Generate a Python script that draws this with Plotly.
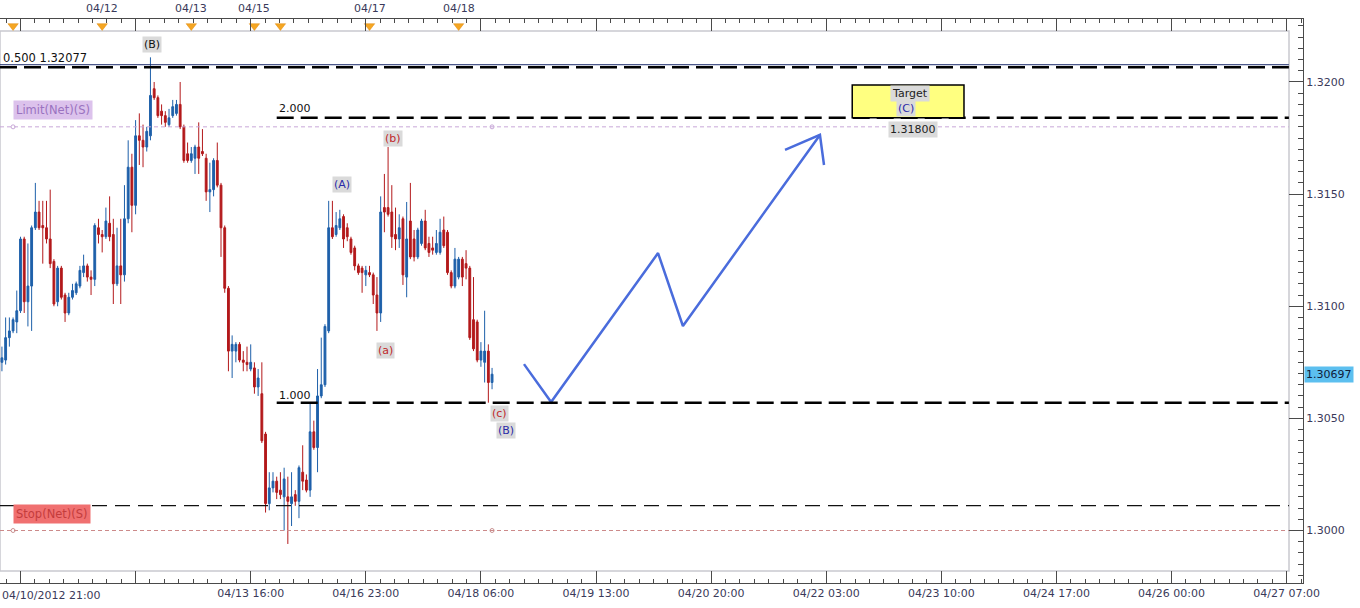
import plotly.graph_objects as go

# ---------------- data ----------------
bars = list(range(-5, 128))  # hourly bar index (weekend gaps removed)

opens = [1.3075,1.3076,1.3086,1.3089,1.3093,1.3098,1.3130,1.3102,1.3109,1.3135,
         1.3142,1.3136,1.3135,1.3130,1.3120,1.3102,1.3117,1.3105,1.3097,1.3104,
         1.3106,1.3109,1.3115,1.3118,1.3113,1.3112,1.3135,1.3132,1.3131,1.3137,
         1.3132,1.3110,1.3118,1.3114,1.3139,1.3162,1.3145,1.3176,1.3174,1.3171,
         1.3176,1.3197,1.3193,1.3187,1.3185,1.3181,1.3185,1.3186,1.3190,1.3180,
         1.3168,1.3165,1.3166,1.3171,1.3169,1.3166,1.3151,1.3152,1.3165,1.3154,
         1.3135,1.3108,1.3080,1.3080,1.3083,1.3076,1.3075,1.3072,1.30725,1.3064,
         1.3061,1.3043,1.3012,1.3019,1.3022,1.3018,1.3015,1.3015,1.3012,1.3016,
         1.3013,1.3026,1.30225,1.3018,1.3044,1.3037,1.3060,1.3065,1.3089,1.3135,
         1.3132,1.3135,1.3140,1.3135,1.3130,1.3126,1.3118,1.3117,1.3114,1.3115,
         1.3114,1.3105,1.3097,1.3144,1.3144,1.3142,1.3132,1.3130,1.3139,1.3113,
         1.3138,1.3130,1.3122,1.3128,1.3138,1.3128,1.3126,1.3124,1.3124,1.3134,
         1.3133,1.3115,1.3109,1.3113,1.3121,1.3119,1.3117,1.3094,1.3093,1.3076,
         1.3075,1.3080,1.3066]
highs = [1.3082,1.3095,1.3095,1.3095,1.3107,1.3131,1.3131,1.3128,1.3136,1.3155,
         1.3147,1.3147,1.3147,1.3152,1.3121,1.3118,1.3118,1.3106,1.3106,1.3110,
         1.3111,1.3118,1.3123,1.3119,1.3116,1.3137,1.3139,1.3134,1.3144,1.3149,
         1.3139,1.3135,1.3139,1.3154,1.3174,1.3168,1.3183,1.3186,1.3181,1.3180,
         1.3211,1.3200,1.3194,1.3190,1.3187,1.3188,1.3192,1.3192,1.3200,1.3181,
         1.3173,1.3171,1.3172,1.3182,1.3179,1.3168,1.3164,1.3166,1.3173,1.3155,
         1.3136,1.3109,1.3087,1.3084,1.3084,1.3080,1.3082,1.3083,1.3075,1.3072,
         1.3075,1.3044,1.3026,1.3026,1.3024,1.3026,1.3028,1.3024,1.3026,1.3018,
         1.3029,1.3038,1.3025,1.3057,1.3049,1.3072,1.3086,1.3092,1.3147,1.3147,
         1.3142,1.3143,1.3141,1.3137,1.3131,1.3127,1.3119,1.3118,1.3118,1.3118,
         1.3115,1.3113,1.3149,1.3159,1.3171,1.3154,1.3144,1.3141,1.3140,1.31465,
         1.3155,1.3134,1.3135,1.3139,1.3143,1.3131,1.3131,1.3134,1.3139,1.3140,
         1.3134,1.3116,1.3126,1.3122,1.3122,1.3125,1.3118,1.3113,1.3094,1.3084,
         1.3098,1.3083,1.30725]
lows = [1.3071,1.3074,1.3082,1.3088,1.3088,1.3097,1.3097,1.3091,1.3089,1.3134,
        1.3134,1.3119,1.3128,1.3117,1.3100,1.3100,1.3103,1.3093,1.3096,1.3103,
        1.3105,1.3108,1.3113,1.3111,1.3105,1.3109,1.3128,1.3124,1.3130,1.3129,
        1.3101,1.3109,1.3101,1.3111,1.3137,1.3133,1.3141,1.3163,1.3162,1.3169,
        1.3174,1.3192,1.3184,1.3181,1.3180,1.3180,1.3184,1.3185,1.3179,1.3164,
        1.3164,1.3164,1.3159,1.3159,1.3167,1.3147,1.3142,1.3149,1.3153,1.3122,
        1.3106,1.3071,1.3068,1.3075,1.3075,1.3071,1.3071,1.3071,1.3061,1.3060,
        1.3039,1.3008,1.3009,1.3017,1.3014,1.3014,1.3000,1.2994,1.3002,1.3011,
        1.30055,1.3018,1.3017,1.3015,1.3036,1.3026,1.3059,1.3064,1.3088,1.3130,
        1.3131,1.3134,1.3126,1.3129,1.3123,1.3116,1.3114,1.3106,1.3109,1.3113,
        1.3101,1.3089,1.3093,1.3133,1.3140,1.3126,1.3125,1.3126,1.31095,1.3104,
        1.3121,1.3120,1.3121,1.3127,1.3125,1.3122,1.3123,1.3123,1.3123,1.3126,
        1.3114,1.3108,1.3108,1.3112,1.3109,1.3112,1.3085,1.3080,1.3075,1.3073,
        1.3066,1.3057,1.3063]
closes = [1.3077,1.3086,1.3089,1.3094,1.3098,1.3130,1.3102,1.3109,1.3135,1.3142,
          1.3135,1.3135,1.3130,1.3119,1.3101,1.3117,1.3104,1.3097,1.3104,1.3107,
          1.3110,1.3116,1.3118,1.3113,1.3112,1.3136,1.3132,1.3131,1.3138,1.3131,
          1.3110,1.3118,1.3114,1.3139,1.3162,1.3145,1.3176,1.3174,1.3171,1.3178,
          1.3194,1.3193,1.3185,1.3185,1.3182,1.3184,1.3189,1.3190,1.3180,1.3165,
          1.3165,1.3168,1.3171,1.3166,1.3168,1.3151,1.3152,1.3165,1.3154,1.3135,
          1.3108,1.3080,1.3083,1.3083,1.3076,1.3075,1.3074,1.3075,1.3064,1.3068,
          1.3040,1.3012,1.3019,1.3022,1.3017,1.3016,1.3023,1.3013,1.3015,1.3013,
          1.3028,1.3022,1.3018,1.3044,1.3037,1.3060,1.3065,1.3091,1.3135,1.3131,
          1.3136,1.3139,1.3130,1.3131,1.3124,1.3118,1.3115,1.3115,1.3116,1.3114,
          1.3105,1.3097,1.3142,1.3142,1.3141,1.3131,1.3130,1.3135,1.3114,1.3130,
          1.3122,1.3122,1.3134,1.3138,1.3126,1.3124,1.3125,1.3128,1.3133,1.3127,
          1.3115,1.3109,1.3121,1.3121,1.3113,1.3117,1.3086,1.3081,1.3076,1.3080,
          1.3080,1.3066,1.30697]

# bottom time axis (bar index -> label)
time_ticks = [0, 31, 62, 93, 124, 155, 186, 217, 248, 279, 310, 341]
time_labels = ["", "", "04/13 16:00", "04/16 23:00", "04/18 06:00", "04/19 13:00",
               "04/20 20:00", "04/22 03:00", "04/23 10:00", "04/24 17:00",
               "04/26 00:00", "04/27 07:00"]
first_label = "04/10/2012 21:00"

# top day markers
day_marks = [-2, 22, 46, 63, 70, 94, 118]
day_labels = ["", "04/12", "04/13", "04/15", "", "04/17", "04/18"]

# levels
fib_050 = 1.32077
fib_050_dash = 1.32066
fib_200 = 1.31841
limit_level = 1.31800
fib_100 = 1.30570
stop_dash = 1.30111
stop_level = 1.30000
last_price = 1.30697
fib_start = 69

# projected wave path
proj_x = [135.6, 142.9, 171.7, 178.4, 215.3]
proj_y = [1.30742, 1.30573, 1.31237, 1.30912, 1.31764]
arrow_x = [205.9, 215.3, 216.4]
arrow_y = [1.31697, 1.31764, 1.31630]

# target zone
target_x = [224.0, 254.1]
target_y = [1.31841, 1.31987]

# wave labels: (text, bar, price, color)
wave_labels = [
    ("(B)", 35.4, 1.32165, "#111111"),
    ("(b)", 100.3, 1.31746, "#c0282a"),
    ("(A)", 86.6, 1.31541, "#2a2aa8"),
    ("(a)", 98.4, 1.30801, "#c0282a"),
    ("(c)", 129.1, 1.30520, "#c0282a"),
    ("(B)", 130.8, 1.30444, "#2a2aa8"),
]

# ---------------- figure ----------------
BLUE = "#1e60aa"
RED = "#b3191b"
FONT = "DejaVu Sans"
XR = [-5.52, 345.4]
XEND = 341.6

fig = go.Figure()

fig.add_trace(go.Candlestick(
    x=bars, open=opens, high=highs, low=lows, close=closes,
    increasing=dict(line=dict(color=BLUE, width=1), fillcolor=BLUE),
    decreasing=dict(line=dict(color=RED, width=1), fillcolor=RED),
    whiskerwidth=0, hoverinfo="skip"))

# projection path
fig.add_trace(go.Scatter(x=proj_x, y=proj_y, mode="lines",
                         line=dict(color="#4a6cdc", width=2.5), hoverinfo="skip"))
fig.add_trace(go.Scatter(x=arrow_x, y=arrow_y, mode="lines",
                         line=dict(color="#4a6cdc", width=2.5), hoverinfo="skip"))

# small circles on limit/stop lines
fig.add_trace(go.Scatter(x=[-2, 127], y=[limit_level, limit_level], mode="markers",
                         marker=dict(symbol="circle-open", size=4, color="#c8a8d8"),
                         hoverinfo="skip"))
fig.add_trace(go.Scatter(x=[-2, 127], y=[stop_level, stop_level], mode="markers",
                         marker=dict(symbol="circle-open", size=4, color="#c89090"),
                         hoverinfo="skip"))

# orange day markers on top
top_y = 1.32250
fig.add_trace(go.Scatter(x=day_marks, y=[top_y] * len(day_marks), mode="markers",
                         marker=dict(symbol="triangle-down", size=9, color="#f5a623",
                                     line=dict(color="#e08a10", width=0.5)),
                         hoverinfo="skip", cliponaxis=False))

shapes = []
def hline(y, x0, color, width, dash):
    shapes.append(dict(type="line", xref="x", yref="y", x0=x0, x1=XEND, y0=y, y1=y,
                       line=dict(color=color, width=width, dash=dash)))

hline(fib_050, XR[0], "#1a2a6a", 1, "solid")
hline(fib_050_dash, XR[0], "#000000", 2.5, "17px,7px")
hline(fib_200, fib_start, "#000000", 2.5, "17px,7px")
hline(limit_level, XR[0], "#c8a8d8", 1, "4px,3px")
hline(fib_100, fib_start, "#000000", 2.5, "17px,7px")
hline(stop_dash, XR[0], "#111111", 1.3, "15px,8px")
hline(stop_level, XR[0], "#cc8a8a", 1, "4px,3px")

# inner plot frame
shapes.append(dict(type="rect", xref="paper", yref="paper", x0=0, x1=0.98926,
                   y0=0.02128, y1=0.97872, line=dict(color="#c9c9cf", width=1.5),
                   layer="below"))
# target box
shapes.append(dict(type="rect", xref="x", yref="y", x0=target_x[0], x1=target_x[1],
                   y0=target_y[0], y1=target_y[1], fillcolor="#ffff80",
                   line=dict(color="#000000", width=1.5), layer="above"))

annotations = []
def ann(text, x, y, color, bg=None, xanchor="center", xref="x", yref="y", size=11, pad=1):
    d = dict(text=text, x=x, y=y, xref=xref, yref=yref, showarrow=False,
             xanchor=xanchor, yanchor="middle",
             font=dict(family=FONT, size=size, color=color))
    if bg:
        d["bgcolor"] = bg
        d["borderpad"] = pad
    annotations.append(d)

for t, x, y, c in wave_labels:
    ann(t, x, y, c, bg="#dadada")

ann("0.500 1.32077", 0.001, 1.32107, "#111111", xanchor="left", xref="paper", size=11.5)
ann("2.000", fib_start, 1.31880, "#111111", xanchor="left")
ann("1.000", fib_start, 1.30604, "#111111", xanchor="left")
ann("Limit(Net)(S)", 0.0100, 1.31875, "#9a72c0", bg="#dcc2ec", xanchor="left",
    xref="paper", size=11.5, pad=2)
ann("Stop(Net)(S)", 0.0100, 1.30074, "#c43c3c", bg="#f07070", xanchor="left",
    xref="paper", size=11.5, pad=2)
ann("Target", 239.6, 1.31947, "#222222", bg="#dadada")
ann("(C)", 238.5, 1.31884, "#2a2aa8", bg="#dadada")
ann("1.31800", 240.4, 1.31790, "#222222", bg="#dadada")
ann(f"{last_price:.5f}", 1.001, last_price, "#10203a", bg="#5cbfef",
    xanchor="left", xref="paper")
ann(first_label, 0.0, -0.023, "#3a3a5a", xanchor="left", xref="paper", yref="paper")
for xm, lab in zip(day_marks, day_labels):
    if lab:
        ann(lab, xm, 1.0195, "#3a3a5a", yref="paper")

axis_col = "#4a4a4a"
fig.update_layout(
    width=1360, height=608,
    margin=dict(l=0, r=57, t=19, b=25),
    paper_bgcolor="white", plot_bgcolor="white",
    showlegend=False,
    font=dict(family=FONT, size=11, color="#3a3a5a"),
    shapes=shapes, annotations=annotations,
    xaxis=dict(range=XR, rangeslider=dict(visible=False), showgrid=False,
               zeroline=False, showline=True, linecolor=axis_col, linewidth=1,
               mirror="allticks", ticks="inside", ticklen=12, tickcolor=axis_col,
               tickmode="array", tickvals=time_ticks, ticktext=time_labels,
               tickfont=dict(family=FONT, size=11, color="#3a3a5a"),
               minor=dict(tickmode="linear", tick0=0, dtick=3.875, ticks="inside",
                          ticklen=4, tickcolor=axis_col, showgrid=False)),
    yaxis=dict(range=[1.297659, 1.322809], side="right", showgrid=False,
               zeroline=False, showline=True, linecolor=axis_col, linewidth=1,
               ticks="inside", ticklen=14, tickcolor=axis_col,
               tick0=1.3, dtick=0.005, tickformat=".4f",
               tickfont=dict(family=FONT, size=11, color="#3a3a5a"),
               minor=dict(tick0=1.3, dtick=0.0005, ticks="inside", ticklen=5,
                          tickcolor=axis_col, showgrid=False)),
)

fig.write_html("out.html", config={"displayModeBar": False},
               post_script="document.body.style.margin='0';")
